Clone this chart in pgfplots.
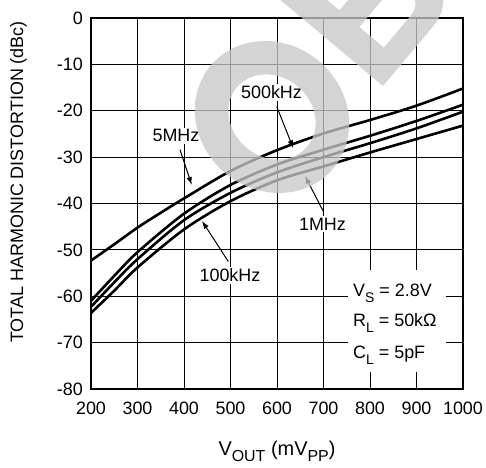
\documentclass[border=0pt]{standalone}
\usepackage{fontspec}
\setmainfont{Liberation Sans}
\usepackage{pgfplots}
\pgfplotsset{compat=1.18}
\usetikzlibrary{arrows.meta}
\newcommand{\lbl}{\fontsize{18}{18}\selectfont}
\newcommand{\sub}[1]{\raisebox{-0.3em}{\fontsize{14}{14}\selectfont #1}}
\newcommand{\subx}[1]{\raisebox{-0.3em}{\fontsize{16}{16}\selectfont #1}}
\begin{document}
\begin{tikzpicture}
\begin{axis}[
  at={(0bp,0bp)}, anchor=south west,
  scale only axis, width=372bp, height=371bp,
  xmin=200, xmax=1000, ymin=-80, ymax=0,
  xtick={200,300,...,1000}, ytick={-80,-70,...,0},
  grid=major, major grid style={black, line width=0.9bp},
  axis line style={line width=1.6bp},
  tick style={draw=none},
  ticklabel style={font=\lbl},
  /pgf/number format/assume math mode=true,
  /pgf/number format/1000 sep={},
  yticklabel style={anchor=east, inner sep=0pt, xshift=-8bp},
  xticklabel style={anchor=north, inner sep=0pt, yshift=-13bp},
  ylabel={TOTAL HARMONIC DISTORTION (dBc)},
  ylabel style={at={(axis description cs:-0.195,0.558)}, anchor=center, font=\lbl},
  xlabel={V\subx{OUT} (mV\subx{PP})},
  xlabel style={at={(axis description cs:0.5,-0.178)}, anchor=base, font=\fontsize{20}{20}\selectfont},
  clip=false,
]
% 5MHz
\addplot[black, line width=2.6bp, smooth, tension=0.5] coordinates {
 (200,-52.3) (250,-48.8) (300,-45.2) (350,-42.0) (400,-38.9) (500,-33.0)
 (600,-28.5) (700,-24.9) (800,-22.0) (900,-18.9) (1000,-15.2)};
\addplot[black, line width=2.6bp, smooth, tension=0.5] coordinates {
 (200,-61.0) (250,-55.6) (300,-50.5) (400,-42.2) (500,-36.0)
 (600,-31.6) (700,-28.4) (800,-25.4) (900,-22.2) (1000,-18.7)};
\addplot[black, line width=2.6bp, smooth, tension=0.5] coordinates {
 (200,-62.3) (250,-57.0) (300,-52.0) (400,-43.6) (500,-37.7)
 (600,-33.3) (700,-30.0) (800,-27.0) (900,-23.8) (1000,-20.2)};
\addplot[black, line width=2.6bp, smooth, tension=0.5] coordinates {
 (200,-63.6) (250,-58.8) (300,-53.8) (400,-45.6) (500,-39.5)
 (600,-35.0) (700,-32.0) (800,-29.0) (900,-26.1) (1000,-23.2)};

% annotations
\node[fill=white, inner sep=2bp, font=\lbl] at (axis cs:382.8,-25.4) {5MHz};
\draw[-{Latex[length=8bp,width=5.5bp]}, line width=1bp] (axis cs:391.4,-28.4) -- (axis cs:416.6,-36.0);
\node[fill=white, inner sep=2bp, font=\lbl] at (axis cs:588.2,-16.06) {500kHz};
\draw[-{Latex[length=8bp,width=5.5bp]}, line width=1bp] (axis cs:599.4,-19.1) -- (axis cs:635.1,-28.1);
\node[fill=white, inner sep=2bp, font=\lbl] at (axis cs:697.8,-44.4) {1MHz};
\draw[-{Latex[length=8bp,width=5.5bp]}, line width=1bp] (axis cs:699.6,-41.7) -- (axis cs:660.2,-34.05);
\node[fill=white, inner sep=2bp, font=\lbl] at (axis cs:498.9,-55.5) {100kHz};
\draw[-{Latex[length=8bp,width=5.5bp]}, line width=1bp] (axis cs:495.3,-52.5) -- (axis cs:438.7,-43.75);

% conditions box
\fill[white] (axis cs:752.7,-54.3) rectangle (axis cs:963.4,-76.3);
\node[anchor=base west, inner sep=0pt, font=\lbl] at (axis cs:763.4,-60.1) {V\sub{S} = 2.8V};
\node[anchor=base west, inner sep=0pt, font=\lbl] at (axis cs:763.4,-66.6) {R\sub{L} = 50kΩ};
\node[anchor=base west, inner sep=0pt, font=\lbl] at (axis cs:763.4,-73.5) {C\sub{L} = 5pF};
\end{axis}

% watermark (decorative, drawn as shapes)
\begin{scope}[shift={(181bp,272bp)}, rotate=50]
\fill[black!22, opacity=0.77, even odd rule] (0,0) ellipse [x radius=73bp, y radius=80bp] (0,0) ellipse [x radius=40bp, y radius=46bp];
\end{scope}
\begin{scope}[shift={(292bp,303bp)}, rotate=50, x=1bp, y=1bp]
\fill[black!22, opacity=0.77, even odd rule]
  (0,0) -- (78,0) .. controls (102,0) and (118,17) .. (118,40)
  .. controls (118,58) and (107,72) .. (90,77)
  .. controls (104,84) and (112,97) .. (112,113)
  .. controls (112,135) and (96,150) .. (72,150) -- (0,150) -- cycle
  (30,24) -- (72,24) .. controls (84,24) and (89,32) .. (89,40)
  .. controls (89,50) and (83,56) .. (72,56) -- (30,56) -- cycle
  (30,82) -- (66,82) .. controls (77,82) and (82,92) .. (82,104)
  .. controls (82,116) and (77,126) .. (66,126) -- (30,126) -- cycle;
\end{scope}

\pgfresetboundingbox
\path[use as bounding box] (-91bp,-79bp) rectangle (395bp,389bp);
\end{tikzpicture}
\end{document}
